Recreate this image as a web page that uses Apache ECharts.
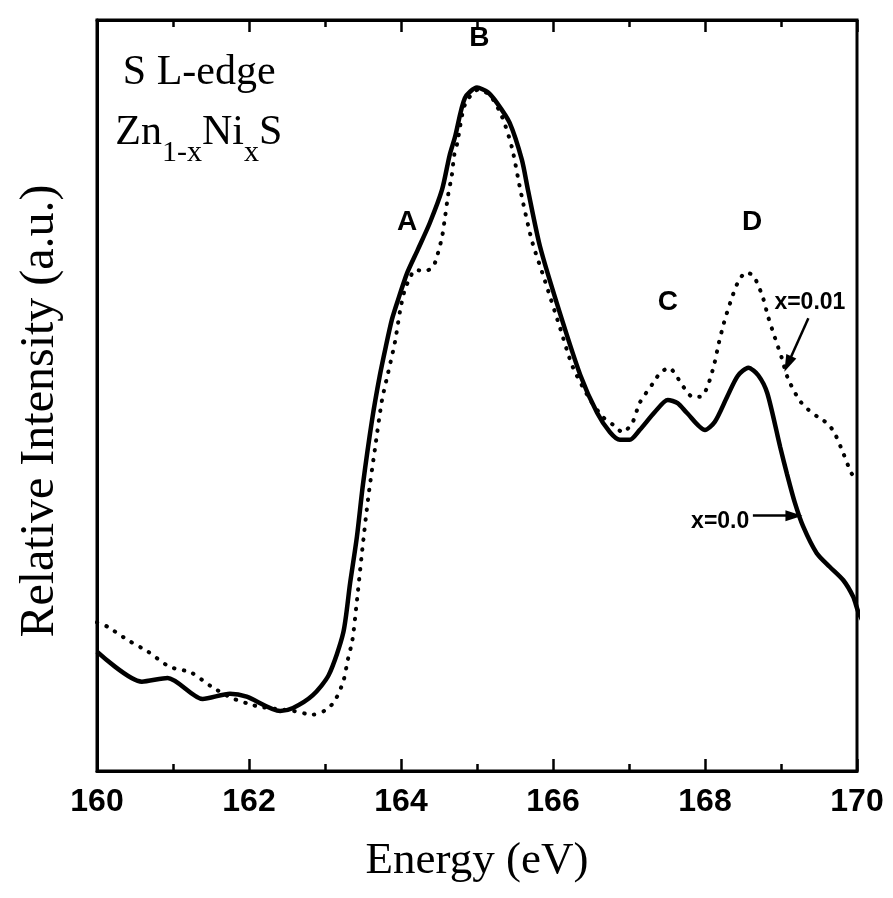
<!DOCTYPE html>
<html>
<head>
<meta charset="utf-8">
<script src="https://cdn.jsdelivr.net/npm/echarts@6/dist/echarts.min.js"></script>
<style>
html,body{margin:0;padding:0;background:#fff;}
#chart{width:893px;height:898px;}
</style>
</head>
<body>
<div id="chart"></div>
<script>
// Energy (eV) and relative intensity (a.u.) for x = 0.0 (solid)
const energy00 = [160.0,160.59,160.93,161.39,161.75,161.97,162.41,162.58,162.84,163.05,163.24,163.33,163.42,163.5,163.62,163.72,163.8,163.88,163.96,164.08,164.22,164.38,164.54,164.64,164.71,164.84,165.0,165.14,165.26,165.43,165.59,165.67,165.83,166.09,166.36,166.58,166.75,166.88,167.01,167.14,167.34,167.51,167.64,167.76,168.0,168.13,168.29,168.43,168.57,168.7,168.82,168.99,169.08,169.18,169.29,169.47,169.64,169.82,169.95,170.01,170.11];
const intensity00 = [15.9,11.9,12.4,9.6,10.3,9.9,8.0,8.4,10.1,12.8,18.4,25.0,31.2,38.2,46.8,52.6,56.5,60.1,62.7,66.3,69.4,73.0,77.4,82.0,84.4,89.6,91.0,90.4,89.0,86.3,81.4,77.4,69.8,61.0,52.7,47.7,45.1,44.1,44.1,45.4,47.8,49.4,49.0,47.7,45.4,46.5,49.8,52.6,53.7,52.7,50.3,43.1,39.5,35.8,32.6,29.0,27.2,25.4,23.2,21.4,19.2];

// x = 0.01 (dotted)
const energy01 = [160.0,160.14,160.41,160.67,160.95,161.24,161.51,161.78,162.04,162.17,162.58,162.84,162.99,163.12,163.24,163.3,163.36,163.41,163.49,163.57,163.66,163.75,163.83,163.92,163.99,164.05,164.12,164.18,164.32,164.42,164.47,164.54,164.58,164.62,164.67,164.7,164.74,164.84,165.01,165.17,165.33,165.46,165.57,165.72,165.89,166.09,166.26,166.49,166.66,166.79,166.92,167.05,167.14,167.32,167.41,167.53,167.63,167.72,167.84,167.96,168.04,168.12,168.18,168.25,168.33,168.43,168.54,168.64,168.76,168.83,168.92,169.01,169.09,169.24,169.36,169.49,169.62,169.71,169.82,169.93,170.0];
const intensity01 = [19.8,19.2,17.4,15.9,13.9,13.1,11.2,9.7,8.8,8.5,8.0,7.5,8.0,9.2,11.9,14.8,17.4,21.7,29.4,36.5,43.1,49.4,53.0,57.1,61.4,64.1,65.7,66.7,66.6,67.1,68.4,71.1,73.8,76.7,79.4,82.0,83.6,88.7,90.7,90.0,87.1,83.0,77.4,70.7,65.4,59.1,53.8,49.4,47.1,46.1,45.1,46.5,49.0,51.7,53.0,53.7,52.5,51.1,49.8,49.9,51.4,54.1,56.9,59.7,62.3,65.0,66.4,65.9,63.1,60.5,57.7,55.0,52.3,49.4,48.1,47.1,46.2,44.9,42.3,39.6,39.0];

const xTicks = [160,162,164,166,168,170];

// Peak labels (energy, intensity)
const peakLabels = ['A','B','C','D'];
const peakE = [164.08,165.03,167.51,168.62];
const peakV = [73.1,97.6,62.4,73.1];

// Arrows [fromE, fromV, toE, toV]
const arrow01 = [169.36,60.3,169.09,54.2];
const arrow00 = [168.63,34.0,169.17,34.0];

const chart = echarts.init(document.getElementById('chart'), null, {renderer:'canvas'});

const pairs = (xs, ys) => xs.map((x,i)=>[x, ys[i]]);

const tickStyle = {color:'#000', width:2.5};
const arrowLine = (a)=>({silent:true, symbol:['none','triangle'], symbolSize:[11,17], label:{show:false},
  lineStyle:{color:'#000', width:2.5, type:'solid'},
  itemStyle:{color:'#000'},
  data:[[{coord:[a[0],a[1]]},{coord:[a[2],a[3]]}]]});
const option = {
  animation:false,
  backgroundColor:'#fff',
  grid:{left:97, right:36, top:20, bottom:127, show:true, borderColor:'#000', borderWidth:3},
  xAxis:[{
    type:'value', min:160, max:170, interval:2, position:'bottom',
    name:'Energy (eV)', nameLocation:'middle', nameGap:68,
    nameTextStyle:{fontFamily:'Liberation Serif', fontSize:45, color:'#000'},
    axisLine:{show:true, lineStyle:{color:'#000', width:3}},
    axisTick:{show:true, inside:true, length:12, lineStyle:tickStyle},
    minorTick:{show:true, splitNumber:2, length:7, lineStyle:tickStyle},
    axisLabel:{show:true, margin:15, fontFamily:'Liberation Sans', fontWeight:'bold', fontSize:32, color:'#000',
      formatter:(v)=> xTicks.includes(v) ? String(v) : ''},
    splitLine:{show:false}
  },{
    type:'value', min:160, max:170, interval:2, position:'top',
    axisLine:{show:true, lineStyle:{color:'#000', width:3}},
    axisTick:{show:true, inside:true, length:12, lineStyle:tickStyle},
    minorTick:{show:true, splitNumber:2, length:7, lineStyle:tickStyle},
    axisLabel:{show:false},
    splitLine:{show:false}
  }],
  yAxis:[{
    type:'value', min:0, max:100,
    axisLine:{show:true, lineStyle:{color:'#000', width:3}},
    axisTick:{show:false}, axisLabel:{show:false}, splitLine:{show:false}
  }],
  series:[{
    name:'x=0.01', type:'line', xAxisIndex:0, data:pairs(energy01,intensity01),
    smooth:0.25, symbol:'none',
    lineStyle:{color:'#000', width:4, type:[0.5,9.5], cap:'round'},
    markLine:arrowLine(arrow01)
  },{
    name:'x=0.0', type:'line', xAxisIndex:0, data:pairs(energy00,intensity00),
    smooth:0.25, symbol:'none', clip:false,
    lineStyle:{color:'#000', width:4.5},
    markLine:arrowLine(arrow00)
  }]
};
chart.setOption(option);

const px = (e,v)=>chart.convertToPixel({gridIndex:0},[e,v]);
const graphics = [];
peakLabels.forEach((t,i)=>{
  const p = px(peakE[i], peakV[i]);
  graphics.push({type:'text', x:p[0], y:p[1], style:{text:t, fill:'#000', font:'bold 28px "Liberation Sans"', textAlign:'center', textVerticalAlign:'middle'}});
});
const p01 = px(169.38, 62.3);
graphics.push({type:'text', x:p01[0], y:p01[1], style:{text:'x=0.01', fill:'#000', font:'bold 23px "Liberation Sans"', textAlign:'center', textVerticalAlign:'middle'}});
const p00 = px(168.2, 33.2);
graphics.push({type:'text', x:p00[0], y:p00[1], style:{text:'x=0.0', fill:'#000', font:'bold 23px "Liberation Sans"', textAlign:'center', textVerticalAlign:'middle'}});
const pS = px(160.34, 92.9);
graphics.push({type:'text', x:pS[0], y:pS[1], style:{text:'S L-edge', fill:'#000', font:'42px "Liberation Serif"', textAlign:'left', textVerticalAlign:'middle'}});
const pZ = px(160.24, 85.2);
graphics.push({type:'text', x:pZ[0], y:pZ[1], style:{
  text:'{m|Zn}{s|1-x}{m|Ni}{s|x}{m|S}', textAlign:'left', textVerticalAlign:'middle',
  rich:{
    m:{font:'42px "Liberation Serif"', fill:'#000', verticalAlign:'bottom', lineHeight:46},
    s:{font:'30px "Liberation Serif"', fill:'#000', verticalAlign:'bottom', lineHeight:32, padding:[0,0,-14,0]}
  }}});
graphics.push({type:'text', x:40, y:411, rotation:Math.PI/2, style:{text:'Relative Intensity (a.u.)', fill:'#000', font:'48px "Liberation Serif"', textAlign:'center', textVerticalAlign:'middle'}});
chart.setOption({graphic:graphics});
</script>
</body>
</html>
